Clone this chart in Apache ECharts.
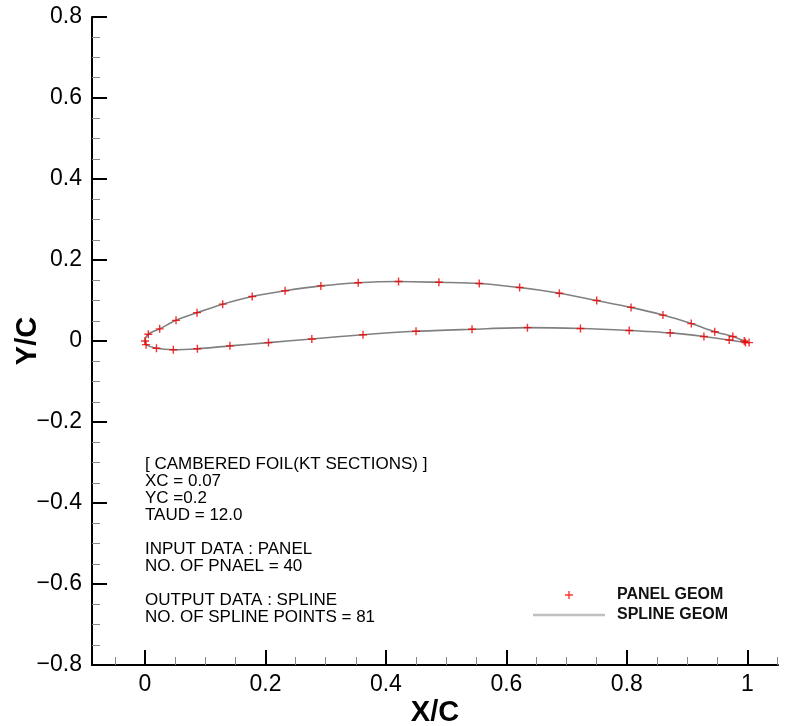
<!DOCTYPE html>
<html>
<head>
<meta charset="utf-8">
<script src="https://cdn.jsdelivr.net/npm/echarts@6/dist/echarts.min.js"></script>
<style>
html,body{margin:0;padding:0;background:#fff;}
#chart{width:794px;height:726px;}
</style>
</head>
<body>
<div id="chart"></div>
<script>
// Upper surface, leading edge -> trailing edge
const upperX = [0.0, 0.0055, 0.0244, 0.0515, 0.0864, 0.129, 0.178, 0.2326, 0.292, 0.354, 0.421, 0.488, 0.555, 0.622, 0.688, 0.750, 0.807, 0.860, 0.907, 0.946, 0.976, 0.995, 1.003];
const upperY = [0.0, 0.0165, 0.030, 0.051, 0.070, 0.091, 0.110, 0.124, 0.136, 0.144, 0.147, 0.145, 0.142, 0.132, 0.118, 0.100, 0.083, 0.064, 0.043, 0.023, 0.011, 0.0, -0.004];
// Lower surface, leading edge -> trailing edge
const lowerX = [0.0017, 0.019, 0.047, 0.087, 0.141, 0.205, 0.277, 0.362, 0.450, 0.543, 0.635, 0.723, 0.804, 0.872, 0.928, 0.970, 0.997];
const lowerY = [-0.009, -0.018, -0.0215, -0.019, -0.012, -0.004, 0.005, 0.0155, 0.024, 0.029, 0.033, 0.031, 0.026, 0.020, 0.011, 0.0025, -0.004];

const xMajorTicks = [0, 0.2, 0.4, 0.6, 0.8, 1];
const xMinorTicks = [-0.05, 0.05, 0.1, 0.15, 0.25, 0.3, 0.35, 0.45, 0.5, 0.55, 0.65, 0.7, 0.75, 0.85, 0.9, 0.95, 1.05];
const infoLines = [
  '[ CAMBERED FOIL(KT SECTIONS) ]',
  'XC = 0.07',
  'YC =0.2',
  'TAUD = 12.0',
  '',
  'INPUT DATA : PANEL',
  'NO. OF PNAEL = 40',
  '',
  'OUTPUT DATA : SPLINE',
  'NO. OF SPLINE POINTS = 81'
];
const legendNames = ['PANEL GEOM', 'SPLINE GEOM'];

// Build point lists
const panelPts = [];
for (let i = 0; i < upperX.length; i++) panelPts.push([upperX[i], upperY[i]]);
for (let i = 0; i < lowerX.length; i++) panelPts.push([lowerX[i], lowerY[i]]);
const loopPts = [];
for (let i = upperX.length - 1; i >= 0; i--) loopPts.push([upperX[i], upperY[i]]);
for (let i = 0; i < lowerX.length; i++) loopPts.push([lowerX[i], lowerY[i]]);

const fmt = v => {
  if (Math.abs(v) < 1e-9) return '0';
  let s = String(Math.round(v * 10) / 10);
  return s.replace('-', '\u2212');
};

const FONT = '"Liberation Sans", Arial, sans-serif';
const PLUS = 'path://M3.3,0H4.7V3.3H8V4.7H4.7V8H3.3V4.7H0V3.3H3.3Z';
const chart = echarts.init(document.getElementById('chart'), null, {renderer: 'canvas'});
chart.setOption({
  backgroundColor: '#fff',
  animation: false,
  textStyle: {fontFamily: FONT},
  grid: {left: 92, top: 17, right: 16, bottom: 61, containLabel: false, outerBoundsMode: 'none'},
  legend: {
    orient: 'vertical', left: 528, top: 580,
    itemWidth: 72, itemHeight: 8, itemGap: 0,
    textStyle: {fontFamily: FONT, fontWeight: 'bold', fontSize: 16, color: '#111', lineHeight: 20, padding: [0,0,0,7]},
    data: [
      {name: legendNames[0], icon: PLUS, itemStyle: {color: '#ff0000'}},
      {name: legendNames[1], icon: 'path://M0,0H72V2.5H0Z', itemStyle: {color: '#c0c0c0'}}
    ]
  },
  xAxis: [{
    type: 'value', min: -0.088, max: 1.051, position: 'bottom',
    name: 'X/C', nameLocation: 'middle', nameGap: 33, nameMoveOverlap: false,
    nameTextStyle: {fontFamily: FONT, fontSize: 29, fontWeight: 'bold', color: '#000'},
    axisLine: {show: true, onZero: false, lineStyle: {color: '#000', width: 2}},
    axisTick: {show: true, inside: true, length: 15, lineStyle: {color: '#000', width: 2}, customValues: xMajorTicks},
    axisLabel: {show: true, margin: 8, fontSize: 23, color: '#000', fontFamily: FONT, customValues: xMajorTicks, formatter: fmt},
    splitLine: {show: false}
  }, {
    type: 'value', min: -0.088, max: 1.051, position: 'bottom', offset: 0,
    axisLine: {show: false, onZero: false},
    axisTick: {show: true, inside: true, length: 8, lineStyle: {color: '#888', width: 1}, customValues: xMinorTicks},
    axisLabel: {show: false},
    splitLine: {show: false}
  }],
  yAxis: {
    type: 'value', min: -0.8, max: 0.8, interval: 0.2,
    name: 'Y/C', nameLocation: 'middle', nameGap: 50, nameRotate: 90, nameMoveOverlap: false,
    nameTextStyle: {fontFamily: FONT, fontSize: 29, fontWeight: 'bold', color: '#000'},
    axisLine: {show: true, onZero: false, lineStyle: {color: '#000', width: 2}},
    axisTick: {show: true, inside: true, length: 15, lineStyle: {color: '#000', width: 2}},
    minorTick: {show: true, splitNumber: 4, length: 8, lineStyle: {color: '#888', width: 1}},
    axisLabel: {show: true, margin: 10, fontSize: 23, color: '#000', fontFamily: FONT, formatter: fmt},
    splitLine: {show: false}
  },
  graphic: [{
    type: 'text', left: 145, top: 456,
    style: {text: infoLines.join('\n'), fontFamily: FONT, fontSize: 17, lineHeight: 17, fill: '#000'}
  }],
  series: [{
    name: legendNames[1], type: 'line', xAxisIndex: 0, data: loopPts,
    showSymbol: false, symbol: 'none', smooth: 0.3,
    lineStyle: {color: '#808080', width: 1.6}, z: 2
  }, {
    name: legendNames[0], type: 'scatter', xAxisIndex: 0, data: panelPts,
    symbol: PLUS, symbolSize: 8,
    itemStyle: {color: '#ee0000'}, z: 3
  }]
});
</script>
</body>
</html>
